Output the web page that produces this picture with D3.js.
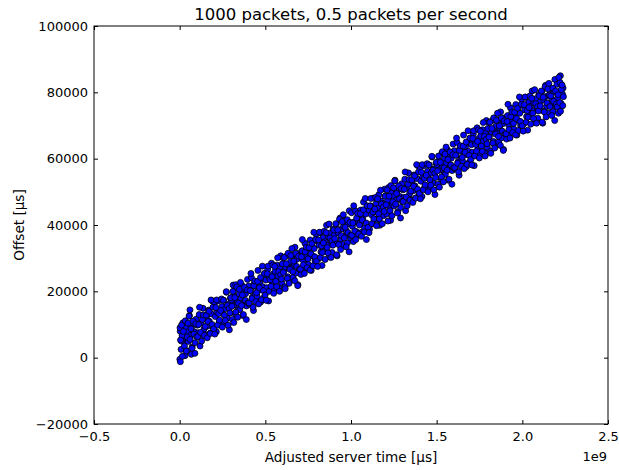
<!DOCTYPE html>
<html>
<head>
<meta charset="utf-8">
<script src="https://cdn.jsdelivr.net/npm/d3@7"></script>
<style>
  body { margin: 0; background: #fff; }
  text { font-family: "DejaVu Sans", sans-serif; fill: #000; }
</style>
</head>
<body>
<svg id="chart" width="619" height="470"></svg>
<script>
// server time in units of 1e9 µs, offset in µs
var serverTimeE9 = [
  0.003,0.008,0.014,0.019,0.025,0.031,0.036,0.042,0.047,
  0.001,0.004,0.060,0.068,0.040,0.002,0.010,
  0.051,0.057,0.062,0.068,0.073,0.079,0.085,0.090,0.096,
  0.103,0.108,0.114,0.119,0.125,0.131,0.136,0.142,0.147,
  0.151,0.157,0.162,0.168,0.173,0.179,0.185,0.190,0.196,
  0.203,0.208,0.214,0.219,0.225,0.231,0.236,0.242,0.247,
  0.251,0.257,0.262,0.268,0.273,0.279,0.285,0.290,0.296,
  0.303,0.308,0.314,0.319,0.325,0.331,0.336,0.342,0.347,
  0.312,0.327,
  0.351,0.357,0.362,0.368,0.373,0.379,0.385,0.390,0.396,
  0.403,0.408,0.414,0.419,0.425,0.431,0.436,0.442,0.447,
  0.451,0.457,0.462,0.468,0.473,0.479,0.485,0.490,0.496,
  0.503,0.508,0.514,0.519,0.525,0.531,0.536,0.542,0.547,
  0.551,0.557,0.562,0.568,0.573,0.579,0.585,0.590,0.596,
  0.603,0.608,0.614,0.619,0.625,0.631,0.636,0.642,0.647,
  0.651,0.657,0.662,0.668,0.673,0.679,0.685,0.690,0.696,
  0.703,0.708,0.714,0.719,0.725,0.731,0.736,0.742,0.747,
  0.751,0.757,0.762,0.768,0.773,0.779,0.785,0.790,0.796,
  0.803,0.808,0.814,0.819,0.825,0.831,0.836,0.842,0.847,
  0.851,0.857,0.862,0.868,0.873,0.879,0.885,0.890,0.896,
  0.903,0.908,0.914,0.919,0.925,0.931,0.936,0.942,0.947,
  0.951,0.957,0.962,0.968,0.973,0.979,0.985,0.990,0.996,
  1.003,1.008,1.014,1.019,1.025,1.031,1.036,1.042,1.047,
  1.051,1.057,1.062,1.068,1.073,1.079,1.085,1.090,1.096,
  1.103,1.108,1.114,1.119,1.125,1.131,1.136,1.142,1.147,
  1.151,1.157,1.162,1.168,1.173,1.179,1.185,1.190,1.196,
  1.203,1.208,1.214,1.219,1.225,1.231,1.236,1.242,1.247,
  1.251,1.257,1.262,1.268,1.273,1.279,1.285,1.290,1.296,
  1.303,1.308,1.314,1.319,1.325,1.331,1.336,1.342,1.347,
  1.351,1.357,1.362,1.368,1.373,1.379,1.385,1.390,1.396,
  1.403,1.408,1.414,1.419,1.425,1.431,1.436,1.442,1.447,
  1.451,1.457,1.462,1.468,1.473,1.479,1.485,1.490,1.496,
  1.503,1.508,1.514,1.519,1.525,1.531,1.536,1.542,1.547,
  1.551,1.557,1.562,1.568,1.573,1.579,1.585,1.590,1.596,
  1.603,1.608,1.614,1.619,1.625,1.631,1.636,1.642,1.647,
  1.651,1.657,1.662,1.668,1.673,1.679,1.685,1.690,1.696,
  1.703,1.708,1.714,1.719,1.725,1.731,1.736,1.742,1.747,
  1.751,1.757,1.762,1.768,1.773,1.779,1.785,1.790,1.796,
  1.803,1.808,1.814,1.819,1.825,1.831,1.836,1.842,1.847,
  1.851,1.857,1.862,1.868,1.873,1.879,1.885,1.890,1.896,
  1.903,1.908,1.914,1.919,1.925,1.931,1.936,1.942,1.947,
  1.951,1.957,1.962,1.968,1.973,1.979,1.985,1.990,1.996,
  2.003,2.008,2.014,2.019,2.025,2.031,2.036,2.042,2.047,
  2.051,2.057,2.062,2.068,2.073,2.079,2.085,2.090,2.096,
  2.103,2.108,2.114,2.119,2.125,2.131,2.136,2.142,2.147,
  2.151,2.157,2.162,2.168,2.173,2.179,2.185,2.190,2.196,
  2.202,2.206,2.211,2.215,2.220,2.225,2.229,2.234,2.238,
  2.222,
  // second half of the packets
  0.005,0.011,0.016,0.022,0.028,0.033,0.039,0.044,0.049,
  0.055,0.061,0.066,0.072,0.078,0.083,0.089,0.094,0.099,
  0.105,0.111,0.116,0.122,0.128,0.133,0.139,0.144,0.149,
  0.155,0.161,0.166,0.172,0.178,0.183,0.189,0.194,0.199,
  0.205,0.211,0.216,0.222,0.228,0.233,0.239,0.244,0.249,
  0.255,0.261,0.266,0.272,0.278,0.283,0.289,0.294,0.299,
  0.305,0.311,0.316,0.322,0.328,0.333,0.339,0.344,0.349,
  0.355,0.361,0.366,0.372,0.378,0.383,0.389,0.394,0.399,
  0.405,0.411,0.416,0.422,0.428,0.433,0.439,0.444,0.449,
  0.455,0.461,0.466,0.472,0.478,0.483,0.489,0.494,0.499,
  0.505,0.511,0.516,0.522,0.528,0.533,0.539,0.544,0.549,
  0.555,0.561,0.566,0.572,0.578,0.583,0.589,0.594,0.599,
  0.605,0.611,0.616,0.622,0.628,0.633,0.639,0.644,0.649,
  0.655,0.661,0.666,0.672,0.678,0.683,0.689,0.694,0.699,
  0.705,0.711,0.716,0.722,0.728,0.733,0.739,0.744,0.749,
  0.755,0.761,0.766,0.772,0.778,0.783,0.789,0.794,0.799,
  0.805,0.811,0.816,0.822,0.828,0.833,0.839,0.844,0.849,
  0.855,0.861,0.866,0.872,0.878,0.883,0.889,0.894,0.899,
  0.905,0.911,0.916,0.922,0.928,0.933,0.939,0.944,0.949,
  0.955,0.961,0.966,0.972,0.978,0.983,0.989,0.994,0.999,
  1.005,1.011,1.016,1.022,1.028,1.033,1.039,1.044,1.049,
  1.055,1.061,1.066,1.072,1.078,1.083,1.089,1.094,1.099,
  1.105,1.111,1.116,1.122,1.128,1.133,1.139,1.144,1.149,
  1.155,1.161,1.166,1.172,1.178,1.183,1.189,1.194,1.199,
  1.205,1.211,1.216,1.222,1.228,1.233,1.239,1.244,1.249,
  1.255,1.261,1.266,1.272,1.278,1.283,1.289,1.294,1.299,
  1.305,1.311,1.316,1.322,1.328,1.333,1.339,1.344,1.349,
  1.355,1.361,1.366,1.372,1.378,1.383,1.389,1.394,1.399,
  1.405,1.411,1.416,1.422,1.428,1.433,1.439,1.444,1.449,
  1.455,1.461,1.466,1.472,1.478,1.483,1.489,1.494,1.499,
  1.505,1.511,1.516,1.522,1.528,1.533,1.539,1.544,1.549,
  1.555,1.561,1.566,1.572,1.578,1.583,1.589,1.594,1.599,
  1.605,1.611,1.616,1.622,1.628,1.633,1.639,1.644,1.649,
  1.655,1.661,1.666,1.672,1.678,1.683,1.689,1.694,1.699,
  1.705,1.711,1.716,1.722,1.728,1.733,1.739,1.744,1.749,
  1.755,1.761,1.766,1.772,1.778,1.783,1.789,1.794,1.799,
  1.805,1.811,1.816,1.822,1.828,1.833,1.839,1.844,1.849,
  1.855,1.861,1.866,1.872,1.878,1.883,1.889,1.894,1.899,
  1.905,1.911,1.916,1.922,1.928,1.933,1.939,1.944,1.949,
  1.955,1.961,1.966,1.972,1.978,1.983,1.989,1.994,1.999,
  2.005,2.011,2.016,2.022,2.028,2.033,2.039,2.044,2.049,
  2.055,2.061,2.066,2.072,2.078,2.083,2.089,2.094,2.099,
  2.105,2.111,2.116,2.122,2.128,2.133,2.139,2.144,2.149,
  2.155,2.161,2.166,2.172,2.178,2.183,2.189,2.194,2.199,
  2.204,2.209,2.213,2.218,2.223,2.227,2.232,2.236,2.240
];
var offsetUs = [
  8000,2500,6700,10500,4700,600,8900,5500,7800,
  -500,-1200,14400,1000,2100,9000,5000,
  4900,12700,6700,9200,3200,10400,7800,4500,11600,
  9800,7500,13000,3500,10500,7000,14900,8600,11700,
  6900,12400,9500,14300,11000,7400,13200,17100,9000,
  16500,12400,7800,13700,17100,10800,9900,13600,15400,
  13300,17300,10600,14800,19700,11900,16100,8400,17900,
  17400,11500,18600,15900,13200,20900,16800,14500,19200,
  21900,22000,
  14500,17900,21900,12700,20100,17000,19300,15600,23600,
  21600,16100,20300,24100,18300,14200,22500,19100,21400,
  18500,26300,20300,22800,16800,24000,21400,18100,25200,
  23400,21100,26600,17100,24100,20600,28500,22200,25300,
  20500,26000,23100,27900,24600,21000,26800,30700,22600,
  30100,26000,21400,27300,30700,24400,23500,27200,29000,
  26900,30900,24200,28400,33300,25500,29700,22000,31500,
  31000,25100,32200,29500,26800,34500,30400,28100,32800,
  28100,31500,35500,26300,33700,30600,32900,29200,37200,
  35200,29700,33900,37700,31900,27800,36100,32700,35000,
  32100,39900,33900,36400,30400,37600,35000,31700,38800,
  37000,34700,40200,30700,37700,34200,42100,35800,38900,
  34100,39600,36700,41500,38200,34600,40400,44300,36200,
  43700,39600,35000,40900,44300,38000,37100,40800,42600,
  40500,44500,37800,42000,46900,39100,43300,35600,45100,
  44600,38700,45800,43100,40400,48100,44000,41700,46400,
  41700,45100,49100,39900,47300,44200,46500,42800,50800,
  48800,43300,47500,51300,45500,41400,49700,46300,48600,
  45700,53500,47500,50000,44000,51200,48600,45300,52400,
  50600,48300,53800,44300,51300,47800,55700,49400,52500,
  47700,53200,50300,55100,51800,48200,54000,57900,49800,
  57300,53200,48600,54500,57900,51600,50700,54400,56200,
  54100,58100,51400,55600,60500,52700,56900,49200,58700,
  58200,52300,59400,56700,54000,61700,57600,55300,60000,
  55300,58700,62700,53500,60900,57800,60100,56400,64400,
  62400,56900,61100,64900,59100,55000,63300,59900,62200,
  59300,67100,61100,63600,57600,64800,62200,58900,66000,
  64200,61900,67400,57900,64900,61400,69300,63000,66100,
  61300,66800,63900,68700,65400,61800,67600,71500,63400,
  70900,66800,62200,68100,71500,65200,64300,68000,69800,
  67700,71700,65000,69200,74100,66300,70500,62800,72300,
  71800,65900,73000,70300,67600,75300,71200,68900,73600,
  68900,72300,76300,67100,74500,71400,73700,70000,78000,
  76000,70500,74700,78500,72700,68600,76900,73500,75800,
  72600,80400,74400,76900,70900,78100,75500,72200,79300,
  77000,74700,80200,70700,77700,74200,82100,75800,78900,
  73700,79200,76300,81100,77800,74200,80000,83900,75800,
  82400,78300,73700,79600,83000,76700,75800,79500,81300,
  85000,
  // second half of the packets
  5300,9800,400,7900,3500,11100,2000,6200,10400,
  12500,5500,8700,2800,11000,7100,1300,10200,6300,
  6300,10000,15200,7600,5000,11500,12900,6700,9400,
  12800,6000,10900,14000,7300,17400,10000,15200,8700,
  7100,15100,17400,9800,13300,11300,14200,17700,9200,
  17300,12800,11200,19900,15700,9800,14800,13500,18100,
  15500,20000,10600,18100,13700,21300,12200,16400,20600,
  22700,15700,18900,13000,21200,17300,11500,20400,16500,
  16500,20200,25400,17800,15200,21700,23100,16900,19600,
  23000,16200,21100,24200,17500,27600,20200,25400,18900,
  17300,25300,27600,20000,23500,21500,24400,27900,19400,
  27500,23000,21400,30100,25900,20000,25000,23700,28300,
  25700,30200,20800,28300,23900,31500,22400,26600,30800,
  32900,25900,29100,23200,31400,27500,21700,30600,26700,
  26700,30400,35600,28000,25400,31900,33300,27100,29800,
  33200,26400,31300,34400,27700,37800,30400,35600,29100,
  27500,35500,37800,30200,33700,31700,34600,38100,29600,
  37700,33200,31600,40300,36100,30200,35200,33900,38500,
  35900,40400,31000,38500,34100,41700,32600,36800,41000,
  43100,36100,39300,33400,41600,37700,31900,40800,36900,
  36900,40600,45800,38200,35600,42100,43500,37300,40000,
  43400,36600,41500,44600,37900,48000,40600,45800,39300,
  37700,45700,48000,40400,43900,41900,44800,48300,39800,
  47900,43400,41800,50500,46300,40400,45400,44100,48700,
  46100,50600,41200,48700,44300,51900,42800,47000,51200,
  53300,46300,49500,43600,51800,47900,42100,51000,47100,
  47100,50800,56000,48400,45800,52300,53700,47500,50200,
  53600,46800,51700,54800,48100,58200,50800,56000,49500,
  47900,55900,58200,50600,54100,52100,55000,58500,50000,
  58100,53600,52000,60700,56500,50600,55600,54300,58900,
  56300,60800,51400,58900,54500,62100,53000,57200,61400,
  63500,56500,59700,53800,62000,58100,52300,61200,57300,
  57300,61000,66200,58600,56000,62500,63900,57700,60400,
  63800,57000,61900,65000,58300,68400,61000,66200,59700,
  58100,66100,68400,60800,64300,62300,65200,68700,60200,
  68300,63800,62200,70900,66700,60800,65800,64500,69100,
  66500,71000,61600,69100,64700,72300,63200,67400,71600,
  73700,66700,69900,64000,72200,68300,62500,71400,67500,
  67500,71200,76400,68800,66200,72700,74100,67900,70600,
  74000,67200,72100,75200,68500,78600,71200,76400,69900,
  68300,76300,78600,71000,74500,72500,75400,78900,70400,
  78200,73700,72100,80800,76600,70700,75700,74400,79000,
  75900,80400,71000,78500,74100,81700,72600,76800,81000,
  82700,75700,78900,73000,81200,77300,71500,80400,76500,
  75600,79300,84500,76900,74300,80800,82200,76000,78700
];
var xTicks = [-0.5, 0.0, 0.5, 1.0, 1.5, 2.0, 2.5];
var yTicks = [-20000, 0, 20000, 40000, 60000, 80000, 100000];

(function () {
  var svg = d3.select("#chart");
  var plotLeft = 94, plotRight = 608, plotTop = 26, plotBottom = 424;

  var x = d3.scaleLinear().domain([-0.5, 2.5]).range([plotLeft, plotRight]);
  var y = d3.scaleLinear().domain([-20000, 100000]).range([plotBottom, plotTop]);

  var points = serverTimeE9.map(function (t, i) { return [t, offsetUs[i]]; });

  // scatter
  svg.append("g").selectAll("circle")
    .data(points)
    .enter().append("circle")
    .attr("cx", function (d) { return x(d[0]); })
    .attr("cy", function (d) { return y(d[1]); })
    .attr("r", 3)
    .attr("fill", "#0000ff")
    .attr("stroke", "#000")
    .attr("stroke-width", 0.8);

  // axes, ticks point inwards like matplotlib classic
  function styleAxis(g) {
    g.select(".domain").remove();
    g.selectAll(".tick line").attr("stroke", "#000");
    g.selectAll(".tick text").style("font-size", "13px").style("font-family", "DejaVu Sans");
  }

  svg.append("g")
    .attr("transform", "translate(0," + plotBottom + ")")
    .call(d3.axisBottom(x).tickValues(xTicks).tickFormat(d3.format(".1f")).tickSizeInner(-4).tickSizeOuter(0).tickPadding(8))
    .call(styleAxis);
  svg.append("g")
    .attr("transform", "translate(0," + plotTop + ")")
    .call(d3.axisTop(x).tickValues(xTicks).tickFormat("").tickSizeInner(-4).tickSizeOuter(0))
    .call(styleAxis);
  svg.append("g")
    .attr("transform", "translate(" + plotLeft + ",0)")
    .call(d3.axisLeft(y).tickValues(yTicks).tickFormat(d3.format("d")).tickSizeInner(-4).tickSizeOuter(0).tickPadding(6))
    .call(styleAxis);
  svg.append("g")
    .attr("transform", "translate(" + plotRight + ",0)")
    .call(d3.axisRight(y).tickValues(yTicks).tickFormat("").tickSizeInner(-4).tickSizeOuter(0))
    .call(styleAxis);

  svg.append("rect")
    .attr("x", plotLeft).attr("y", plotTop)
    .attr("width", plotRight - plotLeft).attr("height", plotBottom - plotTop)
    .attr("fill", "none").attr("stroke", "#000").attr("stroke-width", 1);

  svg.append("text")
    .attr("x", (plotLeft + plotRight) / 2).attr("y", 20)
    .attr("text-anchor", "middle")
    .style("font-size", "16.5px")
    .text("1000 packets, 0.5 packets per second");

  svg.append("text")
    .attr("x", (plotLeft + plotRight) / 2).attr("y", 462)
    .attr("text-anchor", "middle")
    .style("font-size", "13.6px")
    .text("Adjusted server time [µs]");

  svg.append("text")
    .attr("x", 607).attr("y", 461)
    .attr("text-anchor", "end")
    .style("font-size", "13px")
    .text("1e9");

  svg.append("text")
    .attr("transform", "translate(24," + (plotTop + plotBottom) / 2 + ") rotate(-90)")
    .attr("text-anchor", "middle")
    .style("font-size", "13.6px")
    .text("Offset [µs]");
})();
</script>
</body>
</html>
